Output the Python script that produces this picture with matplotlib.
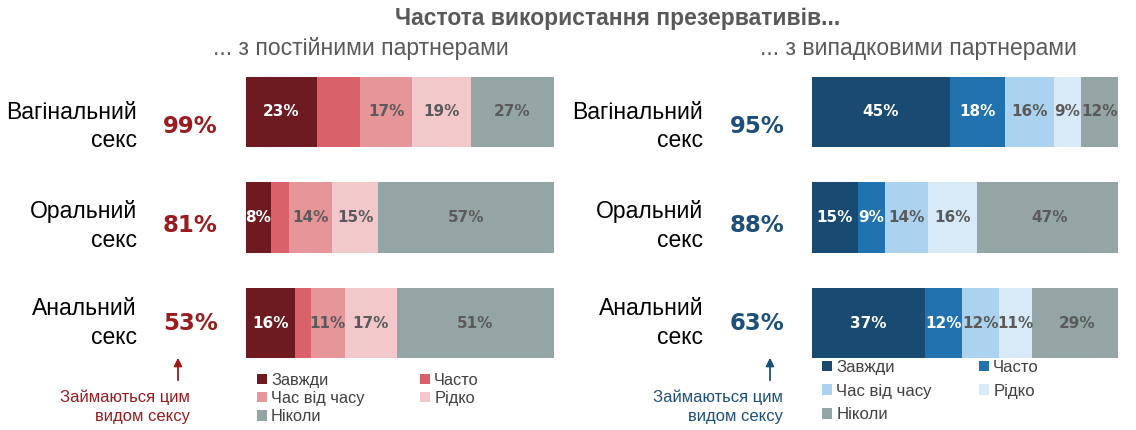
#Condom use frequency with regular and casual partners, stacked bars.

import matplotlib
matplotlib.use('Agg')
import matplotlib.pyplot as plt


categories = ['Вагінальний\nсекс', 'Оральний\nсекс', 'Анальний\nсекс']
levels = ['Завжди', 'Часто', 'Час від часу', 'Рідко', 'Ніколи']

# ... з постійними партнерами
regular = [[23, 14, 17, 19, 27],
           [8, 6, 14, 15, 57],
           [16, 5, 11, 17, 51]]
regular_total = ['99%', '81%', '53%']

# ... з випадковими партнерами
casual = [[45, 18, 16, 9, 12],
          [15, 9, 14, 16, 47],
          [37, 12, 12, 11, 29]]
casual_total = ['95%', '88%', '63%']

title = 'Частота використання презервативів...'
sub_left = '... з постійними партнерами'
sub_right = '... з випадковими партнерами'
note = 'Займаються цим\nвидом сексу'

red_colors = ['#6d1a20', '#d9626a', '#e69599', '#f2c8cb', '#95a5a5']
blue_colors = ['#184a72', '#2272af', '#abd3ef', '#d8eaf8', '#95a5a5']
red_text = ['white', None, '#5a5a5a', '#5a5a5a', '#5a5a5a']   # None -> no label
blue_text = ['white', 'white', '#5a5a5a', '#5a5a5a', '#5a5a5a']

SANS = ['Liberation Sans', 'DejaVu Sans']
W, H = 1136, 430


def draw_panel(ax, data, colors, txt_colors, totals, total_color):
    for i in range(len(categories)):
        left = 0
        for j, v in enumerate(data[i]):
            ax.barh(i, v, left=left, height=0.665, color=colors[j],
                    label=levels[j] if i == 0 else None, edgecolor='none')
            if txt_colors[j] is not None:
                ax.text(left + v / 2, i, f'{v}%', ha='center', va='center',
                        color=txt_colors[j], fontsize=11, fontweight='bold')
            left += v
    ax.set_xlim(0, 100)
    ax.set_ylim(2.5, -0.5)
    ax.axis('off')
    offs = [0.14, 0.08, 0.0]
    for i, c in enumerate(categories):
        ax.text(-35.5, i + offs[i], c, ha='right', va='center', fontsize=16.5,
                family=SANS, linespacing=1.3, color='black')
        ax.text(-18, i + offs[i], totals[i], ha='center', va='center',
                fontsize=16.5, fontweight='bold', color=total_color)


fig = plt.figure(figsize=(W / 100, H / 100), dpi=100)
ax1 = fig.add_axes([246 / W, 1 - 375.75 / H, 308 / W, 316.5 / H])
ax2 = fig.add_axes([812 / W, 1 - 375.75 / H, 306 / W, 316.5 / H])

draw_panel(ax1, regular, red_colors, red_text, regular_total, '#9b1b1e')
draw_panel(ax2, casual, blue_colors, blue_text, casual_total, '#1d4f7a')

fig.text(618 / W, 1 - 18 / H, title, ha='center', va='center', fontsize=16.5,
         fontweight='bold', color='#595959', family=SANS)
fig.text(361 / W, 1 - 48 / H, sub_left, ha='center', va='center', fontsize=16.5,
         color='#595959', family=SANS)
fig.text(918 / W, 1 - 48 / H, sub_right, ha='center', va='center', fontsize=16.5,
         color='#595959', family=SANS)

# legends, order so that column fill reads row by row
order = [0, 2, 4, 1, 3]
for ax, x0, top, fs, sp, cs in [(ax1, 0.036, 0.01, 11.8, 0.21, 3.4),
                                (ax2, 0.033, 0.05, 12.1, 0.52, 2.8)]:
    h, l = ax.get_legend_handles_labels()
    ax.legend([h[k] for k in order], [l[k] for k in order], ncol=2,
              loc='upper left', bbox_to_anchor=(x0, top), frameon=False,
              borderpad=0, borderaxespad=0, handlelength=0.6, handleheight=0.6,
              handletextpad=0.25, labelspacing=sp, columnspacing=cs,
              prop={'family': SANS, 'size': fs}, labelcolor='#404040')

# arrows + notes
for x, xt, col in [(178, 190, '#9b1b1e'), (770, 783, '#1d4f7a')]:
    plt.annotate('', xy=(x, H - 355), xytext=(x, H - 383),
                 xycoords='figure pixels', textcoords='figure pixels',
                 arrowprops=dict(arrowstyle='-|>', color=col, lw=1.3,
                                 mutation_scale=12))
    fig.text(xt / W, 1 - 407 / H, note, ha='right', va='center',
             fontsize=12, color=col, family=SANS, linespacing=1.3,
             multialignment='right')

fig.savefig('out.png', dpi=100)
